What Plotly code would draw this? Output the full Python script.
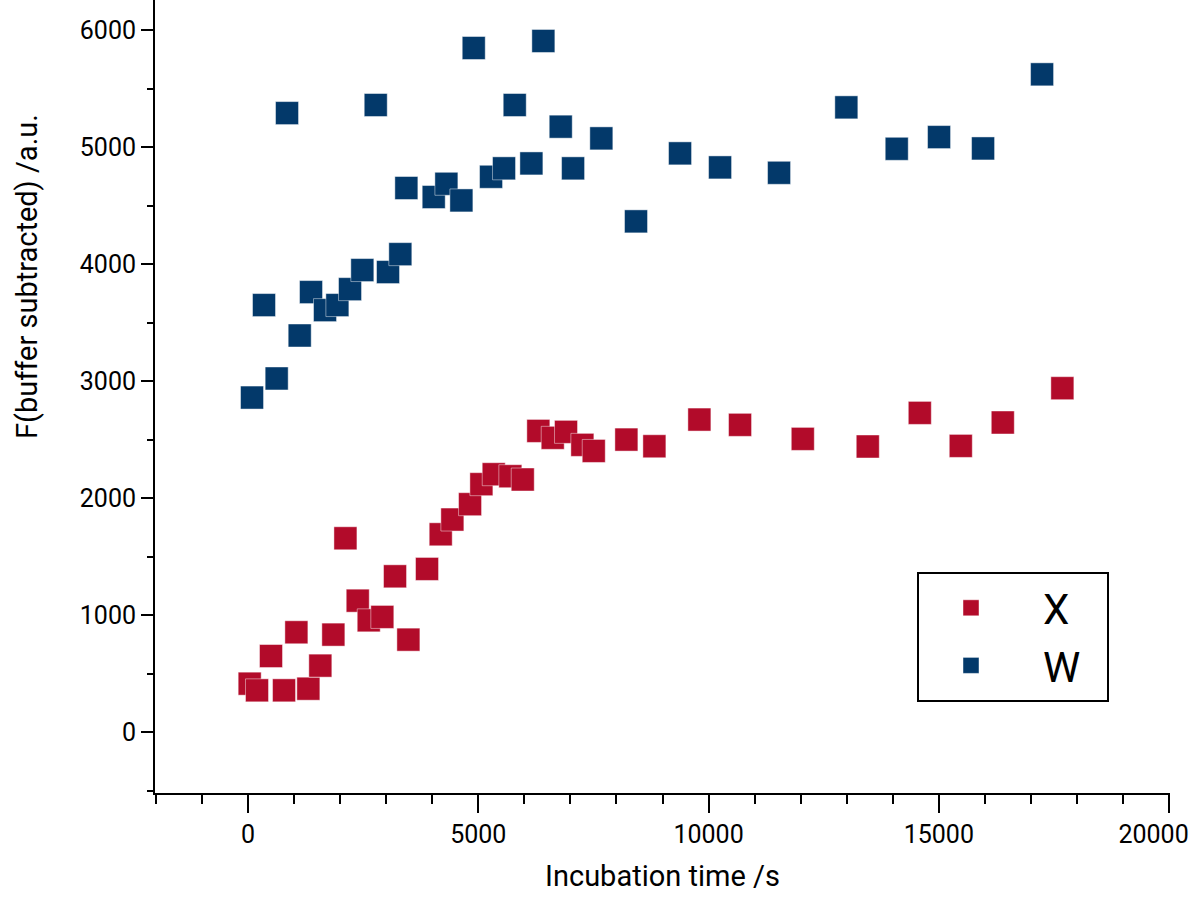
import plotly.graph_objects as go

# Series X (red)
x_time = [36, 195, 499, 782, 1050, 1310, 1570, 1853, 2115, 2382, 2621, 2916, 3192,
          3482, 3887, 4184, 4437, 4821, 5067, 5335, 5696, 5965, 6304, 6616, 6905,
          7260, 7507, 8216, 8824, 9801, 10684, 12046, 13457, 14587, 15477, 16389, 17683]
x_vals = [416, 359, 652, 359, 855, 373, 570, 835, 1658, 1125, 957, 986, 1333,
          792, 1396, 1692, 1818, 1949, 2120, 2205, 2188, 2160, 2575, 2516, 2567,
          2456, 2404, 2501, 2444, 2672, 2627, 2507, 2442, 2729, 2447, 2647, 2940]

# Series W (blue)
w_time = [87, 347, 622, 847, 1122, 1368, 1672, 1940, 2215, 2482, 2773, 3040, 3307,
          3438, 4032, 4307, 4633, 4901, 5277, 5559, 5791, 6153, 6413, 6790, 7058,
          7672, 8425, 9381, 10250, 11531, 12992, 14086, 15005, 15961, 17242]
w_vals = [2860, 3650, 3023, 5290, 3390, 3761, 3607, 3650, 3786, 3949, 5359, 3932, 4085,
          4650, 4573, 4686, 4544, 5846, 4746, 4818, 5359, 4860, 5906, 5174, 4818,
          5074, 4365, 4946, 4826, 4780, 5339, 4985, 5085, 4988, 5621]

NB = "\u00a0"
x_tickvals = [0, 5000, 10000, 15000, 20000]
x_ticktext = ["0", "5000", "10000", "15000", "20000" + NB * 5]
y_tickvals = [0, 1000, 2000, 3000, 4000, 5000, 6000]
y_ticktext = ["0", "1000", "2000", "3000", "4000", "5000", "6000"]

RED = "#B20B2A"
BLUE = "#03396A"
FONT = "Roboto"

fig = go.Figure()
fig.add_trace(go.Scatter(
    x=x_time, y=x_vals, mode="markers", name=NB * 5 + "X" + NB * 2,
    marker=dict(symbol="square", size=23, color=RED,
                line=dict(width=1, color="rgba(255,255,255,0.45)")),
))
fig.add_trace(go.Scatter(
    x=w_time, y=w_vals, mode="markers", name=NB * 5 + "W" + NB * 2,
    marker=dict(symbol="square", size=23, color=BLUE,
                line=dict(width=1, color="rgba(255,255,255,0.45)")),
))

fig.update_layout(
    width=1200, height=906,
    margin=dict(l=155, r=30, t=0, b=113, autoexpand=False),
    paper_bgcolor="white", plot_bgcolor="white",
    font=dict(family=FONT, color="black", size=25),
    showlegend=True,
    legend=dict(
        x=(917 - 155) / 1015, y=(793 - 572) / 793,
        xanchor="left", yanchor="top",
        bordercolor="black", borderwidth=2, bgcolor="white",
        font=dict(family=FONT, size=42, color="black"),
        indentation=32,
        tracegroupgap=0,
    ),
    xaxis=dict(
        range=[-2020, 20020], automargin=False,
        showgrid=False, zeroline=False,
        showline=True, linecolor="black", linewidth=2,
        tickmode="array", tickvals=x_tickvals, ticktext=x_ticktext,
        ticks="outside", ticklen=18, tickwidth=2, tickcolor="black",
        ticklabeloverflow="allow",
        minor=dict(dtick=1000, tick0=0, ticks="outside", ticklen=9,
                   tickwidth=2, tickcolor="black", showgrid=False),
        tickfont=dict(family=FONT, size=25, color="black"),
        title=dict(text="Incubation time /s", standoff=18,
                   font=dict(family=FONT, size=29, color="black")),
    ),
    yaxis=dict(
        range=[-518, 6256], automargin=False,
        showgrid=False, zeroline=False,
        showline=True, linecolor="black", linewidth=2,
        tickmode="array", tickvals=y_tickvals, ticktext=y_ticktext,
        ticks="outside", ticklen=12, tickwidth=2, tickcolor="black",
        ticklabeloverflow="allow",
        minor=dict(dtick=500, tick0=0, ticks="outside", ticklen=6,
                   tickwidth=2, tickcolor="black", showgrid=False),
        tickfont=dict(family=FONT, size=25, color="black"),
    ),
    annotations=[dict(
        text="F(buffer subtracted) /a.u.",
        xref="paper", yref="paper",
        x=(27 - 155) / 1015, y=(793 - 277) / 793,
        xanchor="center", yanchor="middle",
        textangle=-90, showarrow=False,
        font=dict(family=FONT, size=29, color="black"),
    )],
)

fig.write_html(
    "out.html",
    config={"displayModeBar": False},
    post_script="document.body.style.margin='0';document.body.style.overflow='hidden';",
)
